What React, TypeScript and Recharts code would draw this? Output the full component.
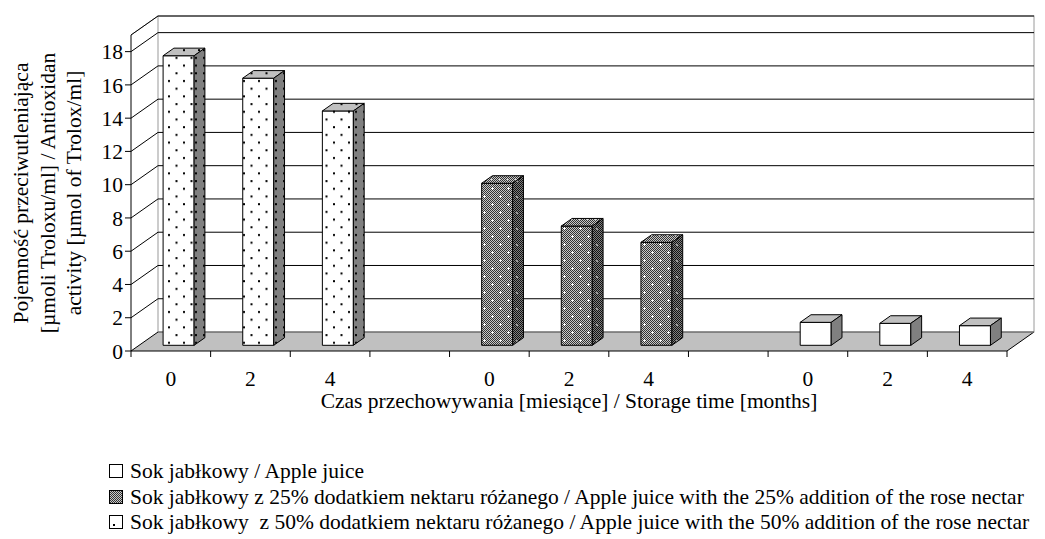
import { Bar, BarChart, CartesianGrid, XAxis, YAxis } from 'recharts';

const categories = ['0', '2', '4', '', '0', '2', '4', '', '0', '2', '4'];
const appleJuice = [null, null, null, null, null, null, null, null, 1.38, 1.32, 1.18];
const juice25 = [null, null, null, null, 9.74, 7.17, 6.19, null, null, null, null];
const juice50 = [17.41, 16.06, 14.09, null, null, null, null, null, null, null, null];
const yTicks = [0, 2, 4, 6, 8, 10, 12, 14, 16, 18];

const seriesNames = [
  'Sok jabłkowy / Apple juice',
  'Sok jabłkowy z 25% dodatkiem nektaru różanego / Apple juice with the 25% addition of the rose nectar',
  'Sok jabłkowy  z 50% dodatkiem nektaru różanego / Apple juice with the 50% addition of the rose nectar',
];

const data = categories.map((cat, i) => ({
  cat,
  apple: appleJuice[i],
  j25: juice25[i],
  j50: juice50[i],
}));

const FONT = '"Liberation Serif", "Times New Roman", serif';
const FS = 21.5;
const W = 1045;
const H = 539;
const MARGIN = { top: 35, right: 38, bottom: 0, left: 0 };
const Y_AXIS_W = 131;
const X_AXIS_H = 188;
const PLOT_LEFT = MARGIN.left + Y_AXIS_W;
const PLOT_RIGHT = W - MARGIN.right;
const PLOT_TOP = MARGIN.top;
const SLOT = (PLOT_RIGHT - PLOT_LEFT) / categories.length;

// 3d depth of the floor, bars sit from 30% to 70% of it
const DX = 27;
const DY = 19;
const OFF = 0.3;
const DEPTH = 0.4;

const faces: Record<string, { front: string; top: string; side: string }> = {
  apple: { front: '#ffffff', top: '#c0c0c0', side: '#808080' },
  j25: { front: 'url(#hatchFront)', top: 'url(#hatchTop)', side: 'url(#hatchSide)' },
  j50: { front: 'url(#dotFront)', top: 'url(#dotTop)', side: 'url(#dotSide)' },
};

function makeShape(key: string) {
  return (props: any) => {
    const { x, y, width, height, value } = props;
    if (value == null || !height || height <= 0) return <g />;
    const f = faces[key];
    const fx = x + DX * OFF;
    const fy = y - DY * OFF;
    const dx = DX * DEPTH;
    const dy = DY * DEPTH;
    return (
      <g stroke="#000" strokeWidth={1} strokeLinejoin="round">
        <rect x={fx} y={fy} width={width} height={height} fill={f.front} />
        <polygon
          points={`${fx},${fy} ${fx + dx},${fy - dy} ${fx + width + dx},${fy - dy} ${fx + width},${fy}`}
          fill={f.top}
        />
        <polygon
          points={`${fx + width},${fy} ${fx + width + dx},${fy - dy} ${fx + width + dx},${fy - dy + height} ${fx + width},${fy + height}`}
          fill={f.side}
        />
      </g>
    );
  };
}

function GridLine(props: any) {
  const { x1, x2, y1, index } = props;
  const bottom = index === 0;
  return (
    <g>
      {bottom && (
        <>
          <polygon
            points={`${x1},${y1} ${x2},${y1} ${x2 + DX},${y1 - DY} ${x1 + DX},${y1 - DY}`}
            fill="#c0c0c0"
            stroke="none"
          />
          <line x1={x2} y1={y1} x2={x2 + DX} y2={y1 - DY} stroke="#000" />
          <rect
            x={x1 + DX}
            y={PLOT_TOP - DY}
            width={x2 - x1}
            height={y1 - PLOT_TOP}
            fill="none"
            stroke="#9a9a9a"
          />
          <line x1={x1} y1={PLOT_TOP} x2={x1 + DX} y2={PLOT_TOP - DY} stroke="#9a9a9a" />
        </>
      )}
      <line x1={x1} y1={y1} x2={x1 + DX} y2={y1 - DY} stroke="#000" />
      <line x1={x1 + DX} y1={y1 - DY} x2={x2 + DX} y2={y1 - DY} stroke={bottom ? '#555' : '#000'} />
    </g>
  );
}

function XTick(props: any) {
  const { x, y, payload, index } = props;
  const last = index === categories.length - 1;
  return (
    <g>
      <line x1={x - SLOT / 2} y1={y} x2={x - SLOT / 2} y2={y + 6} stroke="#000" />
      {last && <line x1={x + SLOT / 2} y1={y} x2={x + SLOT / 2} y2={y + 6} stroke="#000" />}
      <text x={x} y={y + 35} textAnchor="middle" fontFamily={FONT} fontSize={FS} fill="#000">
        {payload.value}
      </text>
    </g>
  );
}

function YTitle(props: any) {
  const vb = props.viewBox || {};
  const cy = (vb.y ?? PLOT_TOP) + (vb.height ?? 316) / 2;
  const lines = [
    'Pojemność przeciwutleniająca',
    '[µmoli Troloxu/ml] / Antioxidan',
    'activity [µmol of Trolox/ml]',
  ];
  const xs = [28, 55, 81];
  return (
    <g>
      {lines.map((t, i) => (
        <text
          key={i}
          transform={`translate(${xs[i]}, ${cy}) rotate(-90)`}
          textAnchor="middle"
          fontFamily={FONT}
          fontSize={FS}
          fill="#000"
        >
          {t}
        </text>
      ))}
    </g>
  );
}

function XTitle(props: any) {
  const vb = props.viewBox || {};
  const cx = (vb.x ?? PLOT_LEFT) + (vb.width ?? PLOT_RIGHT - PLOT_LEFT) / 2;
  const y = (vb.y ?? 351) + 57;
  return (
    <text x={cx} y={y} textAnchor="middle" fontFamily={FONT} fontSize={FS} fill="#000">
      Czas przechowywania [miesiące] / Storage time [months]
    </text>
  );
}

function Patterns() {
  return (
    <defs>
      <pattern id="fine" width={2} height={2} patternUnits="userSpaceOnUse">
        <rect width={2} height={2} fill="#c8c8c8" />
        <rect width={1} height={1} fill="#333" />
        <rect x={1} y={1} width={1} height={1} fill="#333" />
      </pattern>
      <pattern id="fineDark" width={2} height={2} patternUnits="userSpaceOnUse">
        <rect width={2} height={2} fill="#808080" />
        <rect width={1} height={1} fill="#111" />
        <rect x={1} y={1} width={1} height={1} fill="#111" />
      </pattern>
      <pattern id="hatchFront" width={16} height={16} patternUnits="userSpaceOnUse">
        <rect width={16} height={16} fill="url(#fine)" />
        <rect x={3} y={4} width={3} height={1} fill="#fff" />
        <rect x={4} y={3} width={1} height={3} fill="#fff" />
        <rect x={11} y={12} width={3} height={1} fill="#fff" />
        <rect x={12} y={11} width={1} height={3} fill="#fff" />
      </pattern>
      <pattern id="hatchTop" width={8} height={8} patternUnits="userSpaceOnUse">
        <rect width={8} height={8} fill="url(#fine)" />
        <rect x={3} y={3} width={1} height={1} fill="#ddd" />
      </pattern>
      <pattern id="hatchSide" width={16} height={16} patternUnits="userSpaceOnUse">
        <rect width={16} height={16} fill="url(#fineDark)" />
        <rect x={4} y={4} width={2} height={2} fill="#999" />
        <rect x={12} y={12} width={2} height={2} fill="#999" />
      </pattern>
      <pattern id="dotFront" width={15} height={15.4} patternUnits="userSpaceOnUse">
        <rect width={15} height={15.4} fill="#fff" />
        <rect x={3} y={3} width={2} height={2} fill="#000" />
        <rect x={10.5} y={10.7} width={2} height={2} fill="#000" />
      </pattern>
      <pattern id="dotTop" width={15} height={15.4} patternUnits="userSpaceOnUse">
        <rect width={15} height={15.4} fill="#c0c0c0" />
        <rect x={3} y={3} width={2} height={2} fill="#000" />
        <rect x={10.5} y={10.7} width={2} height={2} fill="#000" />
      </pattern>
      <pattern id="dotSide" width={8} height={15.4} patternUnits="userSpaceOnUse">
        <rect width={8} height={15.4} fill="#808080" />
        <rect x={3} y={3} width={2} height={2} fill="#000" />
        <rect x={3} y={10.7} width={2} height={2} fill="#000" />
      </pattern>
    </defs>
  );
}

function LegendBox({ kind }: { kind: number }) {
  const base = {
    display: 'inline-block',
    width: 12,
    height: 12,
    border: '1px solid #000',
    marginRight: 7,
    verticalAlign: 'middle',
    position: 'relative' as const,
    top: -2,
  };
  if (kind === 0) return <span style={{ ...base, background: '#fff' }} />;
  if (kind === 1)
    return (
      <span
        style={{
          ...base,
          background:
            'repeating-conic-gradient(#333 0% 25%, #c8c8c8 0% 50%) 0 0 / 2px 2px',
        }}
      />
    );
  return (
    <span style={{ ...base, background: '#fff' }}>
      <span
        style={{ position: 'absolute', left: 3, bottom: 2, width: 2, height: 2, background: '#000' }}
      />
    </span>
  );
}

export default function App() {
  return (
    <div style={{ position: 'absolute', left: 0, top: 0, width: W, height: H, background: '#fff' }}>
      <BarChart width={W} height={H} data={data} margin={MARGIN} barSize={31}>
        <Patterns />
        <CartesianGrid vertical={false} horizontal={(p: any) => <GridLine {...p} />} />
        <XAxis
          dataKey="cat"
          height={X_AXIS_H}
          tickLine={false}
          tickSize={0}
          tickMargin={0}
          axisLine={{ stroke: '#000' }}
          tick={(p: any) => <XTick {...p} />}
          interval={0}
          label={{ content: (p: any) => <XTitle {...p} /> }}
        />
        <YAxis
          width={Y_AXIS_W}
          domain={[0, 19]}
          ticks={yTicks}
          interval={0}
          axisLine={{ stroke: '#000' }}
          tickLine={{ stroke: '#000' }}
          tick={{ fill: '#000', fontSize: FS, fontFamily: FONT }}
          label={{ content: (p: any) => <YTitle {...p} /> }}
        />
        <Bar dataKey="apple" name={seriesNames[0]} stackId="a" isAnimationActive={false} shape={makeShape('apple')} />
        <Bar dataKey="j25" name={seriesNames[1]} stackId="a" isAnimationActive={false} shape={makeShape('j25')} />
        <Bar dataKey="j50" name={seriesNames[2]} stackId="a" isAnimationActive={false} shape={makeShape('j50')} />
      </BarChart>
      <div
        style={{
          position: 'absolute',
          left: 109,
          top: 459,
          fontFamily: FONT,
          fontSize: FS,
          lineHeight: '25.5px',
          color: '#000',
          whiteSpace: 'pre',
        }}
      >
        {seriesNames.map((n, i) => (
          <div key={i}>
            <LegendBox kind={i} />
            {n}
          </div>
        ))}
      </div>
    </div>
  );
}
